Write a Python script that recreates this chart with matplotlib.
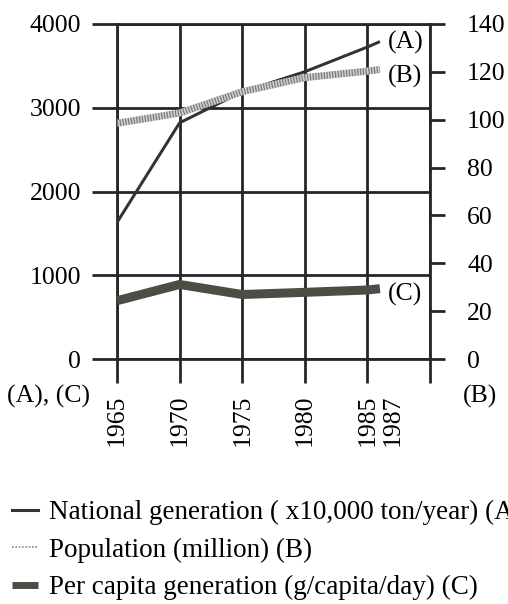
import matplotlib
matplotlib.use("Agg")
import matplotlib.pyplot as plt
from matplotlib.lines import Line2D
from matplotlib.ticker import FixedLocator

plt.rcParams['font.family'] = ['Liberation Serif', 'DejaVu Serif']

years = [1965, 1970, 1975, 1980, 1985, 1986]
national = [1630, 2820, 3190, 3430, 3725, 3790]      # (A) x10,000 ton/year
population = [98.5, 102.8, 111.7, 117.6, 120.3, 121.0]  # (B) million
per_capita = [696, 890, 770, 796, 824, 840]            # (C) g/capita/day

xticks = [1965, 1970, 1975, 1980, 1985, 1990]
xlabels = ['1965', '1970', '1975', '1980', '1985', '']
left_ticks = [0, 1000, 2000, 3000, 4000]
right_ticks = [0, 20, 40, 60, 80, 100, 120, 140]

legend_labels = ['National generation ( x10,000 ton/year) (A)',
                 'Population (million) (B)',
                 'Per capita generation (g/capita/day) (C)']

FS = 18.5
LFS = 19.5
GC = '#262626'
GW = 2.0
px = 0.72  # points per pixel at dpi 100

fig = plt.figure(figsize=(5.08, 6.04), dpi=100)
ax = fig.add_axes([117/508, 1-359/604, 313/508, 335/604])
ax.set_xlim(1965, 1990)
ax.set_ylim(0, 4000)
for s in ax.spines.values():
    s.set_color(GC); s.set_linewidth(GW)
ax.set_xticks(xticks, labels=xlabels, rotation=90)
ax.set_xticks([1987], labels=['1987'], minor=True, rotation=90)
ax.set_yticks(left_ticks, labels=[str(v) for v in left_ticks])
ax.tick_params(axis='x', which='major', direction='out', length=24*px, width=GW, color=GC,
               pad=12*px, labelsize=FS)
ax.tick_params(axis='x', which='minor', length=0, pad=(24+12)*px, labelsize=FS)
ax.tick_params(axis='y', which='major', direction='out', length=25*px, width=GW, color=GC,
               pad=11*px, labelsize=FS)
ax.grid(True, color=GC, linewidth=GW)
ax.set_axisbelow(True)

ax2 = ax.twinx()
ax2.set_ylim(0, 140)
for s in ax2.spines.values():
    s.set_visible(False)
ax2.set_yticks(right_ticks, labels=[str(v) for v in right_ticks])
ax2.yaxis.set_minor_locator(FixedLocator([0, 140]))
ax2.tick_params(axis='y', which='major', direction='out', length=15*px, width=GW, color=GC,
                pad=22*px, labelsize=FS)
ax2.tick_params(axis='y', which='minor', direction='out', length=25*px, width=GW, color=GC)

# (C) per capita
ax.plot(years, per_capita, color='#4b4e45', linewidth=9*px, solid_capstyle='butt', zorder=3)
# (B) population (textured band)
ax2.plot(years, population, color='#d2d2d2', linewidth=7*px, solid_capstyle='butt', zorder=3)
ax2.plot(years, population, color='#7a7a7a', linewidth=7*px, linestyle=(0, (0.18, 0.22)),
         dash_capstyle='butt', zorder=3)
# (A) national
ax.plot(years, national, color='#333333', linewidth=3*px, solid_capstyle='butt', zorder=4)

ax.annotate('(A)', (years[-1], national[-1]), xytext=(8, -1), textcoords='offset pixels',
            ha='left', va='center', fontsize=FS, annotation_clip=False)
ax2.annotate('(B)', (years[-1], population[-1]), xytext=(8, -7), textcoords='offset pixels',
             ha='left', va='center', fontsize=FS, annotation_clip=False)
ax.annotate('(C)', (years[-1], per_capita[-1]), xytext=(8, -6), textcoords='offset pixels',
            ha='left', va='center', fontsize=FS, annotation_clip=False)

fig.text(90/508, 1-396/604, '(A), (C)', ha='right', va='center', fontsize=FS)
fig.text(463/508, 1-396/604, '(B)', ha='left', va='center', fontsize=FS)

handles = [Line2D([], [], color='#333333', linewidth=2.2),
           Line2D([], [], color='#888888', linewidth=1.2, linestyle=(0, (1, 1))),
           Line2D([], [], color='#4b4e45', linewidth=5, solid_capstyle='butt')]
fig.legend(handles, legend_labels, loc='upper left', bbox_to_anchor=(12/508, 1-500/604),
           frameon=False, fontsize=LFS, handlelength=0.96, handletextpad=0.4,
           labelspacing=0.46, borderpad=0, borderaxespad=0)

fig.savefig('out.png', dpi=100)
